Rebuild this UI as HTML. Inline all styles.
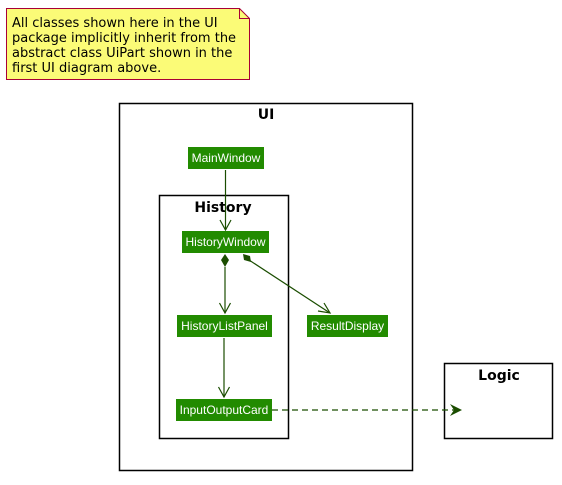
<!DOCTYPE html>
<html><head><style>
body{margin:0;background:#fff;width:562px;height:480px;overflow:hidden}
svg text{font-family:"DejaVu Sans","Liberation Sans",sans-serif}
</style></head><body>
<svg width="562" height="480" viewBox="0 0 562 480">
<polygon points="6.5,8.5 239.5,8.5 249.5,18.5 249.5,79.5 6.5,79.5" fill="#fbfb77" stroke="#a80036" stroke-width="1"/>
<polyline points="239.5,8.5 239.5,18.5 249.5,18.5" fill="none" stroke="#a80036"/>
<g font-size="13" fill="#000">
<text x="12" y="27">All classes shown here in the UI</text>
<text x="12" y="42">package implicitly inherit from the</text>
<text x="12" y="57">abstract class UiPart shown in the</text>
<text x="12" y="72">first UI diagram above.</text>
</g>
<rect x="119.5" y="103.5" width="293" height="367" fill="none" stroke="#000" stroke-width="1.5"/>
<text x="266" y="119" font-size="14" font-weight="bold" text-anchor="middle">UI</text>
<rect x="159.5" y="195.5" width="129" height="243" fill="none" stroke="#000" stroke-width="1.5"/>
<text x="223" y="212" font-size="14" font-weight="bold" text-anchor="middle">History</text>
<rect x="444.5" y="363.5" width="108" height="75" fill="none" stroke="#000" stroke-width="1.5"/>
<text x="499" y="380" font-size="14" font-weight="bold" text-anchor="middle">Logic</text>
<g fill="#228b00">
<rect x="188" y="147" width="76" height="22"/>
<rect x="182" y="231" width="87" height="22"/>
<rect x="177" y="315" width="95" height="22"/>
<rect x="307" y="315" width="81" height="22"/>
<rect x="176" y="399" width="96" height="22"/>
</g>
<g font-size="12" fill="#fff" text-anchor="middle" font-family="Liberation Sans,sans-serif">
<text x="226" y="162" style="font-family:'Liberation Sans',sans-serif">MainWindow</text>
<text x="225.5" y="246" style="font-family:'Liberation Sans',sans-serif">HistoryWindow</text>
<text x="224.5" y="330" style="font-family:'Liberation Sans',sans-serif">HistoryListPanel</text>
<text x="347.5" y="330" style="font-family:'Liberation Sans',sans-serif">ResultDisplay</text>
<text x="224" y="414" style="font-family:'Liberation Sans',sans-serif">InputOutputCard</text>
</g>
<g stroke="#1a4d00" fill="none" stroke-width="1.2">
<line x1="225.5" y1="170" x2="225.5" y2="230"/>
<polyline points="220,220 225.5,230 231,220"/>
<line x1="225" y1="267" x2="225" y2="313"/>
<polyline points="219.5,303 225,313 230.5,303"/>
<line x1="224" y1="338" x2="224" y2="397"/>
<polyline points="218.5,387 224,397 229.5,387"/>
<line x1="249" y1="260" x2="330" y2="313"/>
<polyline points="318,311 330,313 324,303"/>
<line x1="272" y1="410" x2="460" y2="410" stroke-dasharray="6,4"/>
</g>
<polygon points="225,254 229,260 225,267 221,260" fill="#1a4d00"/>
<polygon points="243,254 250,256 251,262 244,260" fill="#1a4d00"/>
<polygon points="450,404 462,410 450,416 454,410" fill="#1a4d00"/>
</svg>
</body></html>
